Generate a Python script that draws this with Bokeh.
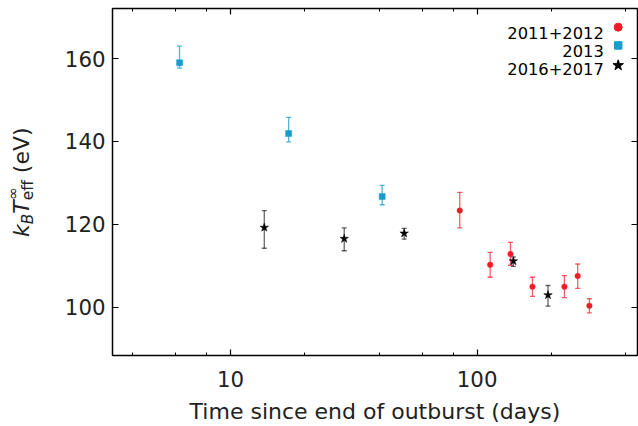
import numpy as np
from bokeh.plotting import figure
from bokeh.layouts import row
from bokeh.models import (ColumnDataSource, Whisker, TeeHead, Label, LogAxis, LinearAxis,
                          LogTicker, SingleIntervalTicker, PrintfTickFormatter, Div)
from bokeh.embed import file_html
from bokeh.resources import INLINE

# ---------------- data ----------------
t_1112 = [85.0, 112.9, 136.5, 167.6, 225.9, 255.7, 285.3]
kt_1112 = [123.3, 110.2, 112.8, 104.9, 104.9, 107.5, 100.3]
up_1112 = [127.7, 113.2, 115.6, 107.2, 107.6, 110.4, 102.0]
lo_1112 = [119.1, 107.2, 110.1, 102.6, 102.3, 104.5, 98.6]

t_13 = [6.21, 17.2, 41.2]
kt_13 = [159.0, 141.9, 126.7]
up_13 = [163.0, 145.8, 129.4]
lo_13 = [157.7, 139.9, 124.7]

t_1617 = [13.7, 28.9, 50.6, 140.3, 193.8]
kt_1617 = [119.2, 116.5, 117.8, 111.1, 102.9]
up_1617 = [123.3, 119.1, 119.0, 112.1, 105.2]
lo_1617 = [114.2, 113.6, 116.4, 109.8, 100.2]

series_labels = ["2011+2012", "2013", "2016+2017"]
y_ticks_interval = 20

X_RANGE = (3.32, 447.0)
Y_RANGE = (88.3, 172.1)

# ---------------- styling ----------------
RED = "#ee1d25"
BLUE = "#1a9ccb"
BLACK = "#000000"
FONT = "DejaVu Sans"
TICK_FS = "21.3px"

TOTAL_W, H = 638, 426
DIV_W = 44
W = TOTAL_W - DIV_W
BL, BR, BT, BB = 112 - DIV_W, 1, 8, 70
FW, FH = W - BL - BR, H - BT - BB

p = figure(width=W, height=H, x_axis_type="log", x_range=X_RANGE, y_range=Y_RANGE,
           output_backend="svg", toolbar_location=None,
           min_border_left=BL, min_border_right=BR, min_border_top=BT, min_border_bottom=BB)
p.grid.visible = False
p.outline_line_color = "black"
p.outline_line_width = 1.5
p.background_fill_color = "white"
p.border_fill_color = "white"

xt = LogTicker()
yt = SingleIntervalTicker(interval=y_ticks_interval, num_minor_ticks=0)


def style_axis(ax, show_labels):
    ax.axis_line_color = None
    ax.major_tick_in = 6
    ax.major_tick_out = 0
    ax.minor_tick_in = 3
    ax.minor_tick_out = 0
    ax.major_tick_line_width = 1.2
    ax.minor_tick_line_width = 1.0
    ax.major_tick_line_color = "black"
    ax.minor_tick_line_color = "black"
    if show_labels:
        ax.major_label_text_font = FONT
        ax.major_label_text_font_size = TICK_FS
        ax.major_label_text_color = "#222222"
    else:
        ax.major_label_text_font_size = "1px"
        ax.major_label_text_color = None
        ax.major_label_standoff = 0
        ax.axis_label_standoff = 0


xa = p.xaxis[0]
xa.ticker = xt
xa.formatter = PrintfTickFormatter(format="%d")
style_axis(xa, True)
xa.major_label_standoff = 15
xa.axis_label = "Time since end of outburst (days)"
xa.axis_label_text_font = FONT
xa.axis_label_text_font_size = "22px"
xa.axis_label_text_font_style = "normal"
xa.axis_label_text_color = "#222222"
xa.axis_label_standoff = 9

ya = p.yaxis[0]
ya.ticker = yt
style_axis(ya, True)
ya.major_label_standoff = 7
ya.minor_tick_in = 0

top = LogAxis(ticker=xt)
style_axis(top, False)
p.add_layout(top, "above")
right = LinearAxis(ticker=yt)
style_axis(right, False)
right.minor_tick_in = 0
p.add_layout(right, "right")


def add_series(t, kt, up, lo, color, marker, size, eb_alpha):
    src = ColumnDataSource(dict(t=t, kt=kt, up=up, lo=lo))
    w = Whisker(base="t", upper="up", lower="lo", source=src, dimension="height",
                line_color=color, line_alpha=eb_alpha, line_width=1.3,
                upper_head=TeeHead(size=5, line_color=color, line_alpha=eb_alpha, line_width=1.3),
                lower_head=TeeHead(size=5, line_color=color, line_alpha=eb_alpha, line_width=1.3))
    w.level = "underlay"
    p.add_layout(w)
    p.scatter(x="t", y="kt", source=src, marker=marker, size=size,
              fill_color=color, line_color=color, line_width=0.5)


add_series(t_13, kt_13, up_13, lo_13, BLUE, "square", 6, 0.75)
add_series(t_1112, kt_1112, up_1112, lo_1112, RED, "circle", 5.5, 0.7)
add_series(t_1617, kt_1617, up_1617, lo_1617, BLACK, "star", 9, 0.6)

# ---------------- legend (text right, marker at right) ----------------
lx0, lx1 = np.log10(X_RANGE[0]), np.log10(X_RANGE[1])


def x_from_right(dpx):
    return 10 ** (lx1 - dpx / FW * (lx1 - lx0))


def y_from_top(dpx):
    return Y_RANGE[1] - dpx / FH * (Y_RANGE[1] - Y_RANGE[0])


leg_rows = [(series_labels[0], RED, "circle", 8, 24.3, 18.7),
            (series_labels[1], BLUE, "square", 7.5, 42.7, 37.0),
            (series_labels[2], BLACK, "star", 11, 60.3, 57.0)]
for text, color, marker, size, base_dy, mk_dy in leg_rows:
    p.add_layout(Label(x=X_RANGE[1], y=Y_RANGE[1], x_offset=-33.7, y_offset=-base_dy,
                       text=text, text_align="right", text_baseline="alphabetic",
                       text_font=FONT, text_font_size="16.3px", text_color="black"))
    p.scatter(x=[x_from_right(19.3)], y=[y_from_top(mk_dy)], marker=marker, size=size,
              fill_color=color, line_color=color)

# ---------------- y axis label (HTML text, rotated) ----------------
MAIN, SUB = 22, 15.4
baseline_x = 30.0          # page x of the main baseline
start_y = 237.0            # page y where the text starts (bottom)
line_top_to_base = 0.846 * MAIN
ylabel_html = (
    f'<div style="position:relative;width:{DIV_W}px;height:{H}px;">'
    f'<div style="position:absolute;left:{baseline_x - line_top_to_base:.1f}px;top:{start_y:.1f}px;'
    f'transform-origin:0 0;transform:rotate(-90deg);white-space:nowrap;'
    f'font-family:\'DejaVu Sans\';font-size:{MAIN}px;line-height:1;color:#222222;">'
    f'<i>k</i>'
    f'<span style="position:relative;top:3.5px;font-size:{SUB}px;font-style:italic;">B</span>'
    f'<i>T</i>'
    f'<span style="position:relative;top:3.5px;font-size:{SUB}px;">eff'
    f'<span style="position:absolute;left:0;top:-12.5px;">∞</span></span>'
    f' (eV)</div></div>'
)
ylab = Div(text=ylabel_html, width=DIV_W, height=H, margin=0)

open("out.html", "w").write(file_html(row(ylab, p), INLINE))
